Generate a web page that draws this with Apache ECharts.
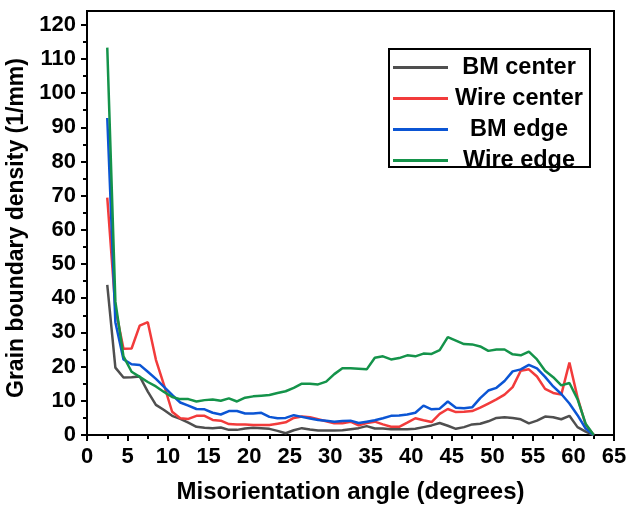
<!DOCTYPE html>
<html>
<head>
<meta charset="utf-8">
<title>Grain boundary density vs misorientation angle</title>
<script src="https://cdn.jsdelivr.net/npm/echarts@6/dist/echarts.min.js"></script>
<style>
  html, body { margin: 0; padding: 0; background: #fff; }
  #chart { width: 630px; height: 512px; }
</style>
</head>
<body>
<div id="chart"></div>
<script>
// Bin centres of the misorientation histogram (degrees)
const angles = [
  2.5, 3.5, 4.5, 5.5, 6.5, 7.5, 8.5, 9.5, 10.5, 11.5,
  12.5, 13.5, 14.5, 15.5, 16.5, 17.5, 18.5, 19.5, 20.5, 21.5,
  22.5, 23.5, 24.5, 25.5, 26.5, 27.5, 28.5, 29.5, 30.5, 31.5,
  32.5, 33.5, 34.5, 35.5, 36.5, 37.5, 38.5, 39.5, 40.5, 41.5,
  42.5, 43.5, 44.5, 45.5, 46.5, 47.5, 48.5, 49.5, 50.5, 51.5,
  52.5, 53.5, 54.5, 55.5, 56.5, 57.5, 58.5, 59.5, 60.5, 61.5,
  62.5
];

// Grain boundary density (1/mm) per bin
const bmCenter = [
  43.9, 19.7, 16.8, 16.9, 17.1, 12.7, 8.8, 7.3, 5.6, 4.7,
  3.6, 2.4, 2.1, 2.0, 2.2, 1.5, 1.5, 1.9, 2.1, 2.0,
  1.8, 1.2, 0.5, 1.4, 2.0, 1.6, 1.3, 1.3, 1.3, 1.4,
  1.7, 2.0, 2.6, 1.9, 1.9, 1.7, 1.7, 1.7, 1.8, 2.3,
  2.8, 3.5, 2.7, 1.8, 2.3, 3.1, 3.3, 4.0, 5.0, 5.2,
  5.0, 4.6, 3.4, 4.2, 5.4, 5.2, 4.6, 5.6, 2.3, 1.0,
  0
];
const wireCenter = [
  69.4, 37.0, 25.2, 25.3, 32.0, 33.0, 22.0, 14.6, 6.8, 4.9,
  4.7, 5.6, 5.6, 4.4, 4.2, 3.2, 3.1, 3.1, 2.9, 2.9,
  2.9, 3.3, 3.7, 5.0, 5.4, 5.2, 4.6, 4.0, 3.4, 3.4,
  3.9, 2.8, 3.5, 3.9, 3.1, 2.4, 2.4, 3.6, 4.9, 4.3,
  3.8, 6.2, 7.6, 6.7, 6.8, 7.0, 8.0, 9.2, 10.4, 11.8,
  14.0, 18.8, 19.2, 17.1, 13.5, 12.3, 11.8, 21.2, 11.0, 3.0,
  0
];
const bmEdge = [
  92.7, 33.0, 22.1, 20.7, 20.5, 18.5, 16.4, 14.1, 11.7, 9.5,
  8.6, 7.6, 7.5, 6.5, 6.0, 7.0, 7.0, 6.3, 6.3, 6.5,
  5.3, 4.9, 5.0, 5.8, 5.3, 4.8, 4.4, 4.2, 3.9, 4.1,
  4.2, 3.5, 3.9, 4.3, 4.9, 5.6, 5.7, 6.0, 6.5, 8.6,
  7.5, 7.7, 9.8, 8.0, 7.8, 8.1, 10.8, 13.0, 13.8, 15.8,
  18.6, 19.2, 20.5, 19.5, 17.0, 14.2, 12.0, 9.2, 5.8, 1.9,
  0
];
const wireEdge = [
  113.3, 39.0, 23.0, 18.5, 17.0, 15.5, 14.2, 12.6, 11.1, 10.5,
  10.5, 9.8, 10.2, 10.4, 10.0, 10.7, 9.8, 10.9, 11.3, 11.5,
  11.7, 12.3, 12.8, 13.8, 15.0, 15.0, 14.8, 15.6, 17.8, 19.5,
  19.5, 19.4, 19.2, 22.6, 23.0, 22.1, 22.5, 23.3, 23.0, 23.8,
  23.7, 24.8, 28.6, 27.6, 26.6, 26.5, 25.9, 24.6, 25.0, 25.0,
  23.6, 23.3, 24.4, 22.1, 18.8, 16.9, 14.5, 15.2, 10.5, 3.3,
  0
];

const seriesNames = ['BM center', 'Wire center', 'BM edge', 'Wire edge'];
const seriesValues = [bmCenter, wireCenter, bmEdge, wireEdge];
const seriesColors = ['#4f4f4f', '#f23b3b', '#0b55d4', '#14934a'];

// Axis tick positions
const xMajorTicks = [0, 5, 10, 15, 20, 25, 30, 35, 40, 45, 50, 55, 60, 65];
const yMajorTicks = [0, 10, 20, 30, 40, 50, 60, 70, 80, 90, 100, 110, 120];
const yMinorTicks = [5, 15, 25, 35, 45, 55, 65, 75, 85, 95, 105, 115];

const FONT = '"Liberation Sans", Arial, sans-serif';

const chart = echarts.init(document.getElementById('chart'), null, { renderer: 'canvas' });

const option = {
  animation: false,
  backgroundColor: '#ffffff',
  grid: {
    left: 87, right: 16, top: 11, bottom: 77,
    outerBoundsMode: 'none',
    show: true,
    borderColor: '#000',
    borderWidth: 2,
    backgroundColor: 'transparent'
  },
  legend: {
    left: 393,
    top: 55.5,
    orient: 'vertical',
    padding: 0,
    itemGap: 7,
    itemWidth: 55,
    itemHeight: 3,
    icon: 'rect',
    selectedMode: false,
    data: seriesNames,
    formatter: name => '{t|' + name + '}',
    textStyle: {
      rich: {
        t: {
          width: 132,
          align: 'center',
          fontFamily: FONT,
          fontWeight: 'bold',
          fontSize: 23.5,
          color: '#000'
        }
      }
    }
  },
  graphic: [{
    type: 'rect',
    shape: { x: 389, y: 49, width: 201, height: 118 },
    style: { fill: 'none', stroke: '#000', lineWidth: 2 },
    z: 100
  }],
  xAxis: {
    type: 'value',
    min: 0,
    max: 65,
    interval: 5,
    name: 'Misorientation angle (degrees)',
    nameLocation: 'middle',
    nameGap: 45,
    nameTextStyle: { fontFamily: FONT, fontWeight: 'bold', fontSize: 24, color: '#000' },
    axisLine: { lineStyle: { color: '#000', width: 2 } },
    axisTick: { show: true, inside: false, length: 6, lineStyle: { color: '#000', width: 2 },
                customValues: xMajorTicks },
    minorTick: { show: true, splitNumber: 2, length: 4, lineStyle: { color: '#000', width: 2 } },
    axisLabel: { fontFamily: FONT, fontWeight: 'bold', fontSize: 22, color: '#000', margin: 11,
                 customValues: xMajorTicks },
    splitLine: { show: false }
  },
  yAxis: [{
    type: 'value',
    min: 0,
    max: 124,
    position: 'left',
    name: 'Grain boundary density (1/mm)',
    nameLocation: 'middle',
    nameGap: 57,
    nameTextStyle: { fontFamily: FONT, fontWeight: 'bold', fontSize: 23, color: '#000',
                     padding: [0, 10, 0, 0] },
    axisLine: { show: true, lineStyle: { color: '#000', width: 2 } },
    axisTick: { show: true, inside: false, length: 6, lineStyle: { color: '#000', width: 2 },
                customValues: yMajorTicks },
    minorTick: { show: false },
    axisLabel: { fontFamily: FONT, fontWeight: 'bold', fontSize: 22, color: '#000', margin: 11,
                 customValues: yMajorTicks },
    splitLine: { show: false }
  }, {
    // secondary left axis carrying only the half-step minor ticks
    type: 'value',
    min: 0,
    max: 124,
    position: 'left',
    axisLine: { show: false },
    axisTick: { show: true, inside: false, length: 4, lineStyle: { color: '#000', width: 2 },
                customValues: yMinorTicks },
    axisLabel: { show: false },
    splitLine: { show: false }
  }],
  series: seriesNames.map((name, i) => ({
    name: name,
    type: 'line',
    yAxisIndex: 0,
    symbol: 'none',
    color: seriesColors[i],
    lineStyle: { width: 2.5, color: seriesColors[i] },
    data: angles.map((a, j) => [a, seriesValues[i][j]])
  }))
};

chart.setOption(option);
</script>
</body>
</html>
